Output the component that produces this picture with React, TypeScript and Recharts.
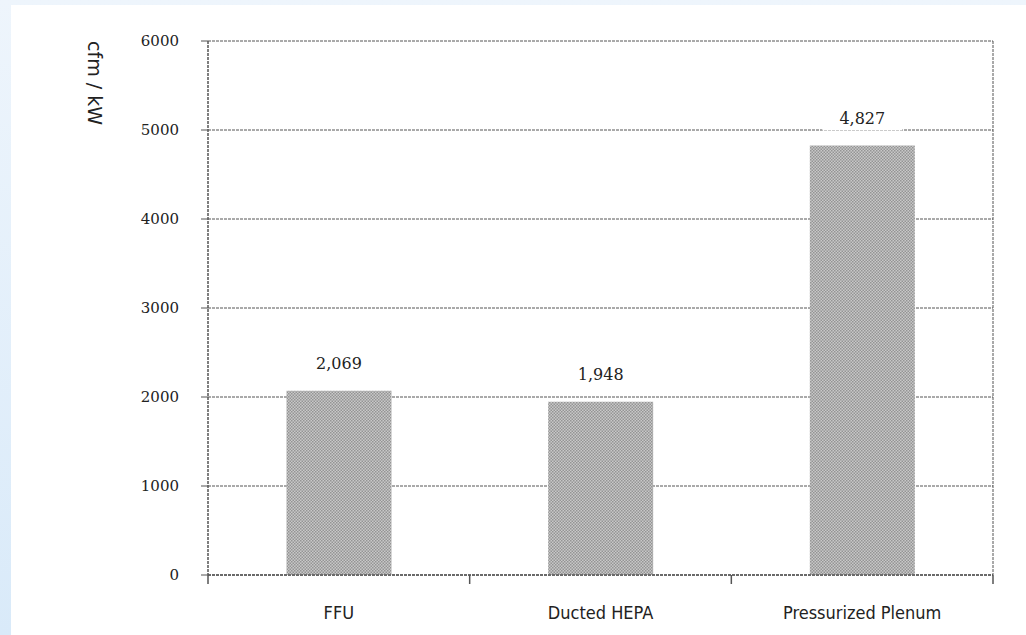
import { BarChart, Bar, XAxis, YAxis, CartesianGrid, LabelList } from "recharts";

const categories = ["FFU", "Ducted HEPA", "Pressurized Plenum"];
const cfmPerKw = [2069, 1948, 4827];
const yTicks = [0, 1000, 2000, 3000, 4000, 5000, 6000];

const data = categories.map((name, i) => ({ name, value: cfmPerKw[i] }));

const GRID = "#555";

function ValueLabel(props: any) {
  const { x, y, width, value } = props;
  const label = Number(value).toLocaleString("en-US");
  const cx = x + width / 2;
  const ty = y - 27;
  return (
    <g>
      <rect x={cx - 40} y={ty - 12} width={80} height={24} fill="#ffffff" />
      <text
        x={cx}
        y={ty}
        textAnchor="middle"
        dominantBaseline="central"
        fontFamily="'DejaVu Serif', serif"
        fontSize={16}
        fill="#222"
      >
        {label}
      </text>
    </g>
  );
}

function AxisTitle() {
  return (
    <text
      x={95}
      y={83}
      transform="rotate(90 95 83)"
      textAnchor="middle"
      dominantBaseline="central"
      fontFamily="'DejaVu Sans', sans-serif"
      fontSize={19}
      fill="#222"
    >
      cfm / kW
    </text>
  );
}

// category label + tick marks on the band edges (Excel style)
function CategoryTick(props: any) {
  const { x, y, payload, visibleTicksCount } = props;
  const half = payload.offset ?? 0;
  const isLast = payload.index === (visibleTicksCount ?? categories.length) - 1;
  return (
    <g>
      <line x1={x - half} x2={x - half} y1={y} y2={y + 9} stroke={GRID} strokeWidth={1.5} />
      {isLast && <line x1={x + half} x2={x + half} y1={y} y2={y + 9} stroke={GRID} strokeWidth={1.5} />}
      <text
        x={x}
        y={y + 37}
        textAnchor="middle"
        dominantBaseline="central"
        fontFamily="'Liberation Sans Narrow', 'DejaVu Sans Condensed', sans-serif"
        fontSize={18}
        fill="#222"
      >
        {payload.value}
      </text>
    </g>
  );
}

export default function App() {
  return (
    <div
      style={{
        position: "fixed",
        left: 0,
        top: 0,
        width: 1026,
        height: 635,
        background: "linear-gradient(180deg, #eef5fc 0%, #d9eaf9 100%)",
        overflow: "hidden",
      }}
    >
      <div style={{ position: "absolute", left: 11, top: 5, width: 1015, height: 630, background: "#fff" }} />
      <div style={{ position: "absolute", left: 0, top: 0 }}>
        <BarChart
          width={1026}
          height={635}
          data={data}
          margin={{ top: 41, right: 33, bottom: 0, left: 0 }}
          barCategoryGap="30%"
        >
          <defs>
            <pattern id="hatch" width="3" height="3" patternUnits="userSpaceOnUse">
              <rect width="3" height="3" fill="#c8c8c8" />
              <rect width="1.5" height="1.5" fill="#949494" />
              <rect x="1.5" y="1.5" width="1.5" height="1.5" fill="#949494" />
            </pattern>
          </defs>
          <CartesianGrid
            stroke={GRID}
            strokeDasharray="3 1"
            verticalCoordinatesGenerator={({ offset }: any) => [offset.left + offset.width]}
          />
          <XAxis
            dataKey="name"
            height={60}
            axisLine={{ stroke: GRID, strokeDasharray: "3 1", strokeWidth: 1.5 }}
            tickLine={false}
            tickSize={0}
            tickMargin={0}
            interval={0}
            tick={<CategoryTick />}
          />
          <YAxis
            width={208}
            domain={[0, 6000]}
            ticks={yTicks}
            interval={0}
            tickSize={7}
            tickMargin={22}
            axisLine={{ stroke: GRID, strokeDasharray: "3 1", strokeWidth: 1.5 }}
            tickLine={{ stroke: GRID }}
            tick={{ fontFamily: "'DejaVu Serif', serif", fontSize: 15, fill: "#222" }}
            label={<AxisTitle />}
          />
          <Bar dataKey="value" fill="url(#hatch)" isAnimationActive={false}>
            <LabelList dataKey="value" content={<ValueLabel />} />
          </Bar>
        </BarChart>
      </div>
    </div>
  );
}
